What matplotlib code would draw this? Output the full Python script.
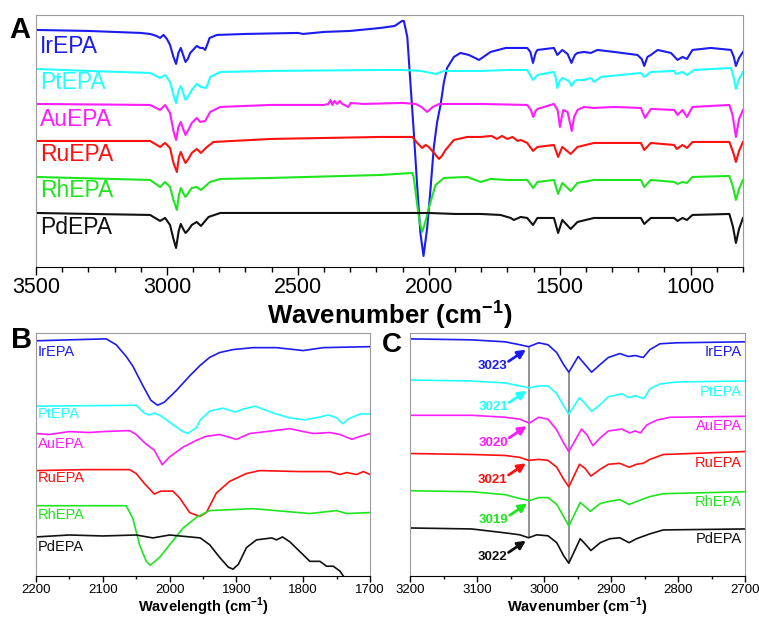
import matplotlib

matplotlib.use("Agg")
import matplotlib.pyplot as plt
import numpy as np

plt.rcParams["font.family"] = ["Liberation Sans", "DejaVu Sans"]
plt.rcParams["mathtext.fontset"] = "custom"
plt.rcParams["mathtext.rm"] = "Liberation Sans"
plt.rcParams["mathtext.bf"] = "Liberation Sans:bold"

SAMPLES = ["IrEPA", "PtEPA", "AuEPA", "RuEPA", "RhEPA", "PdEPA"]
COLORS = ["#1c1cf0", "#22ffff", "#ff1cff", "#ff1010", "#1ee61e", "#111111"]

# ---- panel A: full spectra, (wavenumber, transmittance a.u.)
A_IR = [(3500, 237), (3300, 236), (3100, 234), (3064, 233), (3040, 231), (3026, 229), (3013, 232),
        (3000, 228), (2988, 222), (2975, 210), (2965, 203), (2956, 214), (2947, 219), (2938, 212),
        (2929, 205), (2920, 208), (2911, 214), (2886, 221), (2873, 219), (2862, 219), (2854, 217),
        (2845, 223), (2837, 229), (2809, 232), (2700, 233), (2500, 234), (2480, 233), (2400, 235),
        (2300, 236), (2184, 239), (2130, 241), (2102, 246), (2095, 246), (2082, 230), (2070, 184),
        (2057, 134), (2044, 80), (2032, 34), (2020, 11), (2006, 39), (1993, 79), (1981, 119),
        (1968, 145), (1955, 162), (1942, 185), (1930, 199), (1904, 210), (1879, 214), (1847, 212),
        (1808, 207), (1764, 215), (1706, 219), (1624, 219), (1612, 215), (1602, 204), (1592, 214),
        (1585, 217), (1522, 219), (1509, 212), (1490, 217), (1470, 213), (1455, 204), (1442, 212),
        (1432, 214), (1407, 215), (1381, 214), (1356, 217), (1292, 215), (1203, 212), (1187, 208),
        (1177, 201), (1165, 210), (1152, 212), (1126, 217), (1075, 214), (1050, 207), (1031, 210),
        (1014, 208), (993, 217), (923, 219), (846, 217), (835, 210), (827, 201), (815, 209), (800, 215)]
A_PT = [(3500, 198), (3300, 196), (3064, 194), (3026, 189), (3007, 192), (2988, 185), (2975, 172),
        (2965, 164), (2956, 176), (2947, 181), (2938, 174), (2929, 167), (2918, 171), (2905, 177),
        (2886, 183), (2870, 180), (2850, 179), (2842, 184), (2835, 190), (2796, 195), (2605, 196),
        (2184, 197), (2100, 197), (2030, 196), (1974, 193), (1940, 196), (1800, 196), (1700, 197),
        (1624, 197), (1602, 187), (1585, 192), (1522, 195), (1515, 189), (1509, 179), (1500, 186),
        (1490, 189), (1465, 186), (1455, 181), (1443, 186), (1432, 187), (1407, 187), (1381, 189),
        (1369, 185), (1343, 190), (1190, 194), (1177, 190), (1152, 195), (1063, 196), (1056, 193),
        (1031, 195), (1014, 192), (986, 197), (846, 199), (836, 190), (827, 178), (815, 188),
        (800, 195)]
A_AU = [(3500, 163), (3064, 162), (3026, 157), (3007, 162), (2988, 154), (2975, 136), (2965, 127),
        (2956, 140), (2947, 145), (2938, 138), (2929, 132), (2918, 137), (2905, 144), (2886, 149),
        (2873, 145), (2854, 146), (2845, 150), (2835, 155), (2796, 160), (2605, 162), (2400, 162),
        (2383, 163), (2375, 167), (2368, 162), (2360, 166), (2350, 163), (2340, 166), (2330, 163),
        (2307, 160), (2298, 164), (2250, 163), (2100, 164), (2050, 163), (2028, 160), (2006, 155),
        (1985, 160), (1960, 163), (1800, 163), (1624, 162), (1610, 157), (1601, 150), (1592, 156),
        (1585, 158), (1522, 163), (1508, 157), (1499, 140), (1492, 150), (1486, 157), (1470, 155),
        (1454, 136), (1445, 150), (1432, 157), (1407, 160), (1369, 159), (1292, 160), (1190, 159),
        (1174, 149), (1152, 158), (1063, 157), (1050, 152), (1031, 157), (1014, 150), (993, 160),
        (852, 162), (840, 152), (827, 130), (815, 148), (800, 157)]
A_RU = [(3500, 126), (3064, 126), (3026, 120), (3007, 124), (2988, 119), (2975, 104), (2962, 95),
        (2954, 110), (2947, 115), (2938, 109), (2929, 104), (2918, 108), (2905, 114), (2886, 118),
        (2870, 114), (2847, 120), (2822, 125), (2605, 128), (2184, 130), (2063, 130), (2044, 124),
        (2025, 119), (2012, 122), (2000, 120), (1980, 114), (1961, 108), (1950, 111), (1936, 117),
        (1904, 127), (1853, 130), (1802, 130), (1760, 131), (1740, 128), (1720, 131), (1700, 128),
        (1680, 130), (1660, 126), (1649, 127), (1624, 124), (1602, 116), (1585, 120), (1522, 122),
        (1506, 110), (1490, 120), (1458, 113), (1432, 120), (1369, 124), (1190, 124), (1177, 117),
        (1152, 124), (1063, 122), (1053, 118), (1031, 122), (1014, 119), (993, 125), (852, 125),
        (838, 115), (827, 105), (815, 116), (800, 125)]
A_RH = [(3500, 90), (3064, 87), (3026, 80), (3007, 85), (2988, 80), (2975, 67), (2962, 57),
        (2954, 72), (2947, 79), (2938, 74), (2929, 70), (2918, 74), (2905, 79), (2886, 80),
        (2870, 77), (2835, 85), (2796, 88), (2605, 89), (2184, 92), (2063, 94), (2057, 89),
        (2044, 62), (2035, 45), (2025, 35), (2012, 46), (2000, 59), (1974, 82), (1942, 89),
        (1853, 90), (1802, 85), (1764, 88), (1700, 87), (1624, 87), (1601, 79), (1585, 85),
        (1522, 87), (1506, 73), (1490, 84), (1458, 76), (1432, 84), (1369, 87), (1190, 87),
        (1177, 80), (1152, 87), (1063, 85), (1050, 83), (1031, 85), (1014, 84), (993, 90),
        (852, 91), (838, 80), (827, 67), (815, 78), (800, 87)]
A_PD = [(3500, 54), (3064, 52), (3026, 46), (3007, 49), (2988, 42), (2975, 28), (2965, 19),
        (2955, 36), (2947, 43), (2938, 38), (2929, 34), (2918, 37), (2905, 42), (2886, 45),
        (2870, 41), (2841, 50), (2796, 54), (2605, 54), (2184, 54), (2000, 54), (1898, 53),
        (1802, 53), (1726, 52), (1687, 49), (1675, 47), (1649, 50), (1624, 49), (1602, 42),
        (1585, 49), (1522, 49), (1506, 34), (1490, 47), (1458, 38), (1432, 45), (1369, 49),
        (1190, 49), (1177, 43), (1152, 49), (1063, 49), (1050, 46), (1031, 49), (1014, 47),
        (993, 52), (852, 53), (838, 40), (827, 24), (815, 38), (800, 49)]

# ---- panel B: 2200-1700 cm-1 region
B_IR = [(2200, 241), (2150, 242), (2095, 243), (2080, 237), (2065, 225), (2055, 215), (2040, 195),
        (2028, 180), (2018, 175), (2008, 178), (1990, 190), (1970, 205), (1954, 216), (1940, 224),
        (1925, 229), (1905, 232), (1875, 234), (1840, 234), (1800, 231), (1770, 234), (1700, 235)]
B_PT = [(2200, 174), (2050, 175), (2038, 167), (2030, 165), (2023, 167), (2013, 164), (1995, 155),
        (1980, 148), (1973, 146), (1960, 152), (1954, 160), (1946, 165), (1940, 169), (1920, 172),
        (1902, 168), (1890, 171), (1872, 174), (1845, 167), (1820, 162), (1797, 160), (1775, 163),
        (1762, 165), (1750, 162), (1741, 156), (1732, 161), (1715, 166), (1700, 166)]
B_AU = [(2200, 146), (2180, 145), (2150, 148), (2120, 147), (2100, 148), (2060, 149), (2050, 145),
        (2035, 135), (2023, 129), (2011, 114), (2000, 122), (1980, 132), (1960, 139), (1946, 143),
        (1925, 145), (1900, 140), (1880, 146), (1855, 148), (1820, 151), (1800, 148), (1785, 146),
        (1760, 147), (1745, 145), (1727, 140), (1715, 143), (1700, 146)]
B_RU = [(2200, 108), (2125, 109), (2060, 109), (2050, 105), (2038, 95), (2023, 84), (2013, 87),
        (1995, 87), (1985, 80), (1970, 65), (1955, 61), (1945, 65), (1930, 85), (1910, 97),
        (1885, 105), (1865, 108), (1805, 107), (1760, 107), (1745, 104), (1735, 106), (1720, 104),
        (1710, 107), (1700, 104)]
B_RH = [(2200, 72), (2065, 72), (2055, 59), (2045, 32), (2035, 15), (2029, 11), (2015, 19),
        (2000, 32), (1980, 49), (1960, 60), (1946, 65), (1940, 67), (1875, 69), (1790, 64),
        (1750, 67), (1735, 64), (1700, 65)]
B_PD = [(2200, 40), (2150, 42), (2100, 41), (2050, 42), (2025, 39), (2000, 42), (1954, 39),
        (1940, 32), (1925, 19), (1912, 9), (1905, 7), (1897, 12), (1885, 29), (1870, 37),
        (1847, 39), (1840, 37), (1831, 40), (1820, 35), (1805, 25), (1790, 15), (1775, 15),
        (1765, 10), (1755, 10), (1745, 5), (1738, -2)]

# ---- panel C: 3200-2700 cm-1 region
C_IR = [(3200, 242), (3108, 241), (3058, 239), (3036, 236), (3023, 234), (3008, 238), (2994, 236),
        (2981, 228), (2971, 216), (2963, 208), (2949, 224), (2939, 216), (2929, 208), (2916, 216),
        (2904, 223), (2887, 227), (2874, 224), (2864, 225), (2852, 223), (2842, 231), (2827, 237),
        (2802, 238), (2700, 239)]
C_PT = [(3200, 200), (3108, 199), (3058, 197), (3036, 194), (3022, 192), (3008, 194), (2994, 194),
        (2981, 186), (2971, 174), (2963, 165), (2947, 182), (2939, 176), (2929, 168), (2916, 175),
        (2904, 183), (2884, 186), (2873, 182), (2864, 184), (2851, 181), (2842, 191), (2827, 196),
        (2802, 198), (2700, 199)]
C_AU = [(3200, 164), (3108, 164), (3058, 162), (3036, 160), (3022, 156), (3008, 162), (2994, 160),
        (2981, 149), (2971, 136), (2963, 127), (2944, 150), (2936, 144), (2927, 133), (2916, 141),
        (2904, 148), (2884, 150), (2872, 146), (2864, 148), (2856, 146), (2847, 154), (2832, 159),
        (2812, 162), (2700, 163)]
C_RU = [(3200, 125), (3108, 124), (3058, 123), (3036, 121), (3023, 118), (3008, 119), (2994, 118),
        (2981, 111), (2971, 99), (2963, 91), (2947, 114), (2939, 110), (2930, 102), (2916, 109),
        (2904, 114), (2887, 115), (2873, 111), (2862, 114), (2852, 115), (2842, 119), (2822, 124),
        (2700, 127)]
C_RH = [(3200, 87), (3108, 86), (3058, 83), (3036, 79), (3021, 77), (3008, 80), (2994, 80),
        (2981, 73), (2971, 61), (2963, 51), (2946, 75), (2939, 71), (2931, 66), (2916, 74),
        (2904, 76), (2887, 78), (2873, 73), (2862, 76), (2842, 81), (2822, 84), (2700, 86)]
C_PD = [(3200, 49), (3108, 48), (3058, 44), (3036, 42), (3023, 39), (3011, 42), (2994, 41),
        (2981, 34), (2971, 21), (2963, 13), (2946, 38), (2939, 33), (2930, 26), (2916, 34),
        (2902, 38), (2887, 39), (2873, 34), (2862, 38), (2842, 43), (2822, 47), (2700, 48)]

C_PEAKS = ["3023", "3021", "3020", "3021", "3019", "3022"]
C_PEAK_WN = [3023, 3022, 3022, 3023, 3021, 3023]

A_DATA = [A_IR, A_PT, A_AU, A_RU, A_RH, A_PD]
B_DATA = [B_IR, B_PT, B_AU, B_RU, B_RH, B_PD]
C_DATA = [C_IR, C_PT, C_AU, C_RU, C_RH, C_PD]


def style_axes(ax, fs, major, minor, maj_len, min_len, pad):
    for side in ("top", "left", "right"):
        ax.spines[side].set_color("#9a9a9a")
    ax.spines["bottom"].set_color("black")
    ax.set_yticks([])
    ax.xaxis.set_major_locator(matplotlib.ticker.MultipleLocator(major))
    ax.xaxis.set_minor_locator(matplotlib.ticker.MultipleLocator(minor))
    ax.tick_params(axis="x", which="major", direction="out", length=maj_len, width=1.0,
                   labelsize=fs, pad=pad)
    ax.tick_params(axis="x", which="minor", direction="out", length=min_len, width=1.0)


def plot_set(ax, data, lw):
    for spec, col in zip(data, COLORS):
        arr = np.array(spec, dtype=float)
        ax.plot(arr[:, 0], arr[:, 1], color=col, lw=lw, solid_joinstyle="round")


fig = plt.figure(figsize=(7.59, 6.2), dpi=100)

# panel A
axA = fig.add_axes([0.0474, 0.5694, 0.9315, 0.4065])
plot_set(axA, A_DATA, 1.5)
axA.set_xlim(3500, 800)
axA.set_ylim(0, 252)
style_axes(axA, 15.5, 500, 100, 6, 3.5, 1.5)
axA.set_xlabel(r"Wavenumber (cm$^{\mathbf{-1}}$)", fontsize=18.5, fontweight="bold", labelpad=-0.5)
for name, col, y in zip(SAMPLES, COLORS, [220, 184, 147, 112, 76, 39]):
    axA.text(0.006, y, name, color=col, fontsize=16.5, va="center", ha="left",
             transform=axA.get_yaxis_transform())

# panel B
axB = fig.add_axes([0.0474, 0.0710, 0.4401, 0.3919])
plot_set(axB, B_DATA, 1.2)
axB.set_xlim(2200, 1700)
axB.set_ylim(0, 249)
style_axes(axB, 9.5, 100, 50, 4, 2.5, 1.5)
axB.set_xlabel(r"Wavelength (cm$^{\mathbf{-1}}$)", fontsize=10.5, fontweight="bold", labelpad=0)
for name, col, y in zip(SAMPLES, COLORS, [230, 166, 135, 100, 62, 30]):
    axB.text(0.006, y, name, color=col, fontsize=10.5, va="center", ha="left",
             transform=axB.get_yaxis_transform())

# panel C
axC = fig.add_axes([0.5402, 0.0710, 0.4414, 0.3919])
plot_set(axC, C_DATA, 1.2)
axC.set_xlim(3200, 2700)
axC.set_ylim(0, 248)
style_axes(axC, 9.5, 100, 50, 4, 2.5, 1.5)
axC.set_xlabel(r"Wavenumber (cm$^{\mathbf{-1}}$)", fontsize=10.5, fontweight="bold", labelpad=0)
for name, col, y in zip(SAMPLES, COLORS, [229, 188, 153, 115, 76, 38]):
    axC.text(0.991, y, name, color=col, fontsize=10.5, va="center", ha="right",
             transform=axC.get_yaxis_transform())

# guide lines through the 3020 shoulder and the 2963 band
dip_3020 = [dict(C_DATA[i])[w] for i, w in enumerate(C_PEAK_WN)]
axC.vlines(3022, min(dip_3020), max(dip_3020), color="#808080", lw=1.2, zorder=1)
main_dip = [dict(s)[2963] for s in C_DATA]
axC.vlines(2963, min(main_dip), max(main_dip), color="#808080", lw=1.2, zorder=1)

for label, wn, spec, col in zip(C_PEAKS, C_PEAK_WN, C_DATA, COLORS):
    yv = dict(spec)[wn]
    axC.annotate("", xy=(wn + 4, yv - 3), xytext=(wn + 30, yv - 15),
                 arrowprops=dict(arrowstyle="-|>", color=col, lw=2.0, mutation_scale=12,
                                 shrinkA=0, shrinkB=0))
    axC.text(wn + 54, yv - 20, label, color=col, fontsize=9.5, fontweight="bold",
             ha="center", va="center")

fig.text(0.012, 0.952, "A", fontsize=21, fontweight="bold", va="center", ha="left")
fig.text(0.014, 0.451, "B", fontsize=21, fontweight="bold", va="center", ha="left")
fig.text(0.503, 0.444, "C", fontsize=20, fontweight="bold", va="center", ha="left")

fig.savefig("out.png", dpi=100)
